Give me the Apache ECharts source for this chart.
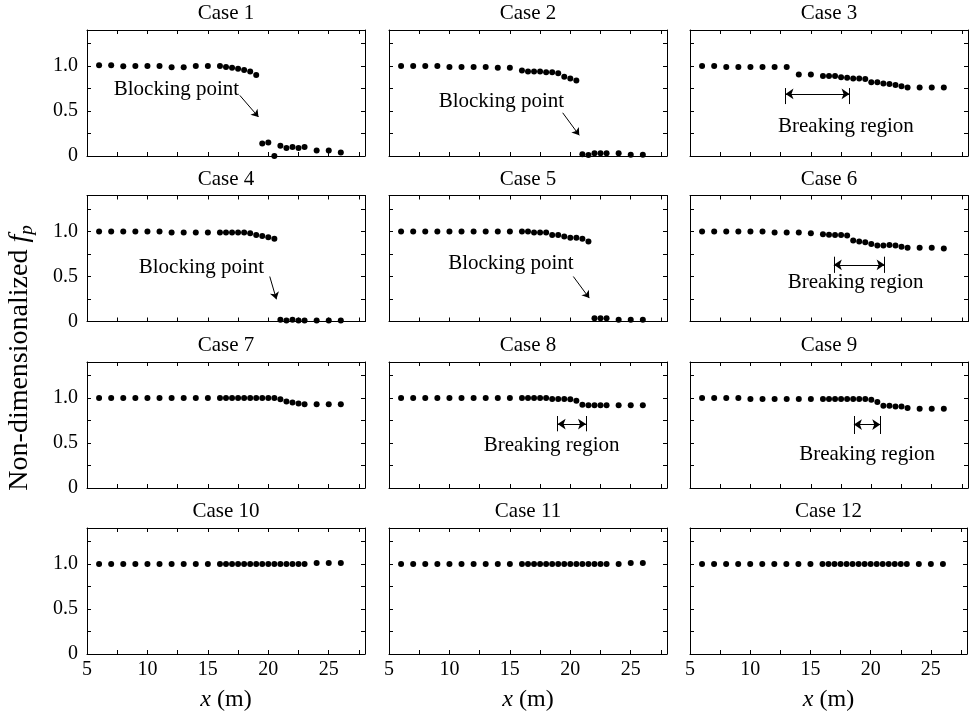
<!DOCTYPE html>
<html>
<head>
<meta charset="utf-8">
<script src="https://cdn.jsdelivr.net/npm/echarts@6/dist/echarts.min.js"></script>
<style>
html,body{margin:0;padding:0;background:#fff;}
#chart{width:970px;height:718px;}
</style>
</head>
<body>
<div id="chart"></div>
<script>
// ---------- data ----------
const xPos = [6,7,8,9,10,11,12,13,14,15,16,16.5,17,17.5,18,18.5,19,19.5,20,20.5,21,21.5,22,22.5,23,24,25,26];

const case1 = [1.007,1.007,0.996,1.0,1.0,1.0,0.985,0.985,1.0,1.0, 1.0,0.99,0.98,0.97,0.955,0.94,0.90, 0.14,0.15,0.0,0.115,0.09,0.10,0.09,0.10, 0.06,0.06,0.04];
const case2 = [1.0,1.0,1.0,1.0,0.99,0.99,0.99,0.99,0.98,0.98, 0.95,0.94,0.94,0.94,0.93,0.93,0.92,0.88,0.86,0.84, 0.02,0.01,0.03,0.03,0.03, 0.03,0.015,0.015];
const case3 = [1.0,1.0,0.99,0.99,0.99,0.99,0.99,0.99, 0.905,0.905, 0.89,0.89,0.89,0.875,0.87,0.86,0.86,0.855,0.82,0.82,0.805,0.80,0.79,0.775,0.76, 0.76,0.76,0.76];
const case4 = [1.0,1.0,1.0,1.0,1.0,1.0,0.99,0.99,0.99,0.99, 0.99,0.99,0.99,0.99,0.99,0.98,0.96,0.95,0.935,0.92, 0.02,0.01,0.02,0.01,0.01, 0.01,0.01,0.01];
const case5 = [1.0,1.0,1.0,1.0,1.0,1.0,1.0,1.0,1.0,1.0, 1.0,1.0,0.99,0.99,0.99,0.96,0.96,0.945,0.93,0.93,0.92,0.89, 0.035,0.035,0.035, 0.02,0.02,0.02];
const case6 = [1.0,1.0,1.0,1.0,1.0,1.0,0.99,0.99,0.99,0.98, 0.97,0.965,0.96,0.96,0.955,0.90,0.89,0.88,0.86,0.845,0.845,0.85,0.845,0.83,0.82, 0.82,0.82,0.81];
const case7 = [1.0,1.0,1.0,1.0,1.0,1.0,1.0,1.0,1.0,1.0, 1.0,1.0,1.0,1.0,1.0,1.0,1.0,1.0,1.0,1.0, 0.985,0.96,0.95,0.94,0.93, 0.93,0.93,0.93];
const case8 = [1.0,1.0,1.0,1.0,1.0,1.0,1.0,1.0,1.0,1.0, 1.0,1.0,1.0,1.0,1.0,0.99,0.99,0.99,0.985,0.97, 0.925,0.92,0.92,0.92,0.92, 0.92,0.92,0.92];
const case9 = [1.0,1.0,1.0,1.0,0.99,0.99,0.99,0.99,0.99,0.99, 0.99,0.99,0.99,0.99,0.99,0.99,0.99,0.99,0.98,0.955, 0.915,0.915,0.905,0.905,0.89, 0.88,0.88,0.88];
const case10 = [1.0,1.0,1.0,1.0,1.0,1.0,1.0,1.0,1.0,1.0, 1.0,1.0,1.0,1.0,1.0,1.0,1.0,1.0,1.0,1.0, 1.0,1.0,1.0,1.0,1.0, 1.01,1.01,1.01];
const case11 = [1.0,1.0,1.0,1.0,1.0,1.0,1.0,1.0,1.0,1.0, 1.0,1.0,1.0,1.0,1.0,1.0,1.0,1.0,1.0,1.0, 1.0,1.0,1.0,1.0,1.0, 1.0,1.01,1.01];
const case12 = [1.0,1.0,1.0,1.0,1.0,1.0,1.0,1.0,1.0,1.0, 1.0,1.0,1.0,1.0,1.0,1.0,1.0,1.0,1.0,1.0, 1.0,1.0,1.0,1.0,1.0, 1.0,1.0,1.0];

const caseValues = [case1,case2,case3,case4,case5,case6,case7,case8,case9,case10,case11,case12];
const caseNames = ['Case 1','Case 2','Case 3','Case 4','Case 5','Case 6','Case 7','Case 8','Case 9','Case 10','Case 11','Case 12'];

const xTickValues = [5,10,15,20,25];
const xTickLabels = ['5','10','15','20','25'];
const yTickValues = [0,0.5,1.0];
const yTickLabels = ['0','0.5','1.0'];

// blocking point annotations
const blockCases = [0,1,3,4];
const blockText  = [[12.4,0.74],[14.3,0.61],[14.47,0.605],[15.08,0.64]];
const blockArrow = [[17.64,0.674,19.19,0.433],[19.37,0.48,20.74,0.23],[20.12,0.50,20.67,0.247],[20.25,0.50,21.57,0.26]];
const blockLabel = 'Blocking point';

// breaking region annotations
const breakCases = [2,5,7,8];
const breakRange = [[12.9,18.2],[16.9,21.1],[18.95,21.3],[18.56,20.74]];
const breakArrowY = [0.69,0.63,0.71,0.705];
const breakBar = [[0.577,0.755],[0.54,0.72],[0.63,0.80],[0.60,0.80]];
const breakText = [[17.9,0.33],[18.7,0.435],[18.45,0.47],[19.65,0.375]];
const breakLabel = 'Breaking region';

// ---------- layout ----------
const FONT = 'Liberation Serif';
const colLeft = [87, 389, 690];
const rowTop = [30, 195.5, 362, 528];
const gridW = 278, gridH = 126;

function fmt(vals, labels){
  return function(v){
    const k = vals.findIndex(t => Math.abs(t - v) < 1e-6);
    return k >= 0 ? labels[k] : '';
  };
}

const grids = [], xAxes = [], yAxes = [], series = [];
const lineCol = '#000';
for (let i = 0; i < 12; i++) {
  const r = Math.floor(i / 3), c = i % 3;
  grids.push({left: colLeft[c], top: rowTop[r], width: gridW, height: gridH});
  const common = {
    gridIndex: i, type: 'value', splitLine: {show: false},
    axisLine: {show: true, onZero: false, lineStyle: {color: lineCol, width: 1}},
    axisTick: {show: true, inside: true, length: 4, lineStyle: {color: lineCol, width: 1}}
  };
  xAxes.push(Object.assign({}, common, {
    min: 5, max: 28, interval: 2.5, position: 'bottom',
    axisLabel: {show: r === 3, formatter: fmt(xTickValues, xTickLabels), margin: 6, color: '#000', fontFamily: FONT, fontSize: 20},
    name: r === 3 ? '{i|x} (m)' : '', nameLocation: 'middle', nameGap: 34,
    nameTextStyle: {color: '#000', fontFamily: FONT, fontSize: 24, rich: {i: {fontFamily: FONT, fontSize: 24, fontStyle: 'italic', color: '#000'}}}
  }));
  xAxes.push(Object.assign({}, common, {
    min: 5, max: 28, interval: 2.5, position: 'top',
    axisLabel: {show: false},
    name: caseNames[i], nameLocation: 'middle', nameGap: 6,
    nameTextStyle: {color: '#000', fontFamily: FONT, fontSize: 21}
  }));
  yAxes.push(Object.assign({}, common, {
    min: 0, max: 1.4, interval: 0.25, position: 'left',
    axisLabel: {show: c === 0, formatter: fmt(yTickValues, yTickLabels), margin: 9, color: '#000', fontFamily: FONT, fontSize: 20}
  }));
  yAxes.push(Object.assign({}, common, {
    min: 0, max: 1.4, interval: 0.25, position: 'right',
    axisLabel: {show: false}
  }));
  series.push({
    type: 'scatter', xAxisIndex: 2 * i, yAxisIndex: 2 * i,
    data: xPos.map((x, j) => [x, caseValues[i][j]]),
    symbol: 'circle', symbolSize: 6, itemStyle: {color: '#000', opacity: 1}, silent: true, z: 3
  });
}

const textLabel = (txt) => ({show: true, position: 'inside', formatter: txt, fontFamily: FONT, fontSize: 21, color: '#000', opacity: 1});
const mlCommon = {silent: true, label: {show: false}, animation: false, lineStyle: {color: '#000', width: 1, type: 'solid', opacity: 1}, emphasis: {disabled: true}};

blockCases.forEach((ci, k) => {
  const a = blockArrow[k];
  series.push({
    type: 'scatter', xAxisIndex: 2 * ci, yAxisIndex: 2 * ci,
    data: [blockText[k]], symbol: 'circle', symbolSize: 1,
    itemStyle: {color: 'rgba(0,0,0,0)', opacity: 1}, label: textLabel(blockLabel), silent: true, z: 4,
    markLine: Object.assign({}, mlCommon, {
      symbol: ['none', 'arrow'], symbolSize: 7,
      data: [[{coord: [a[0], a[1]]}, {coord: [a[2], a[3]]}]]
    })
  });
});

breakCases.forEach((ci, k) => {
  const rg = breakRange[k], y = breakArrowY[k], b = breakBar[k];
  series.push({
    type: 'scatter', xAxisIndex: 2 * ci, yAxisIndex: 2 * ci,
    data: [breakText[k]], symbol: 'circle', symbolSize: 1,
    itemStyle: {color: 'rgba(0,0,0,0)', opacity: 1}, label: textLabel(breakLabel), silent: true, z: 4,
    markLine: Object.assign({}, mlCommon, {
      symbol: ['arrow', 'arrow'], symbolSize: 8,
      data: [
        [{coord: [rg[0], y]}, {coord: [rg[1], y]}],
        [{coord: [rg[0], b[0]], symbol: 'none'}, {coord: [rg[0], b[1]], symbol: 'none'}],
        [{coord: [rg[1], b[0]], symbol: 'none'}, {coord: [rg[1], b[1]], symbol: 'none'}]
      ]
    })
  });
});

const chart = echarts.init(document.getElementById('chart'), null, {renderer: 'canvas'});
chart.setOption({
  backgroundColor: '#fff',
  animation: false,
  grid: grids, xAxis: xAxes, yAxis: yAxes, series: series,
  graphic: [{
    type: 'text', x: 20, y: 358, rotation: Math.PI / 2,
    style: {
      text: 'Non-dimensionalized {i|f}{s|p}',
      fill: '#000', font: '28px "Liberation Serif"', align: 'center', verticalAlign: 'middle',
      rich: {
        i: {fontFamily: FONT, fontSize: 28, fontStyle: 'italic', fill: '#000'},
        s: {fontFamily: FONT, fontSize: 19, fontStyle: 'italic', fill: '#000', padding: [14, 0, 0, 0]}
      }
    }
  }]
});
</script>
</body>
</html>
